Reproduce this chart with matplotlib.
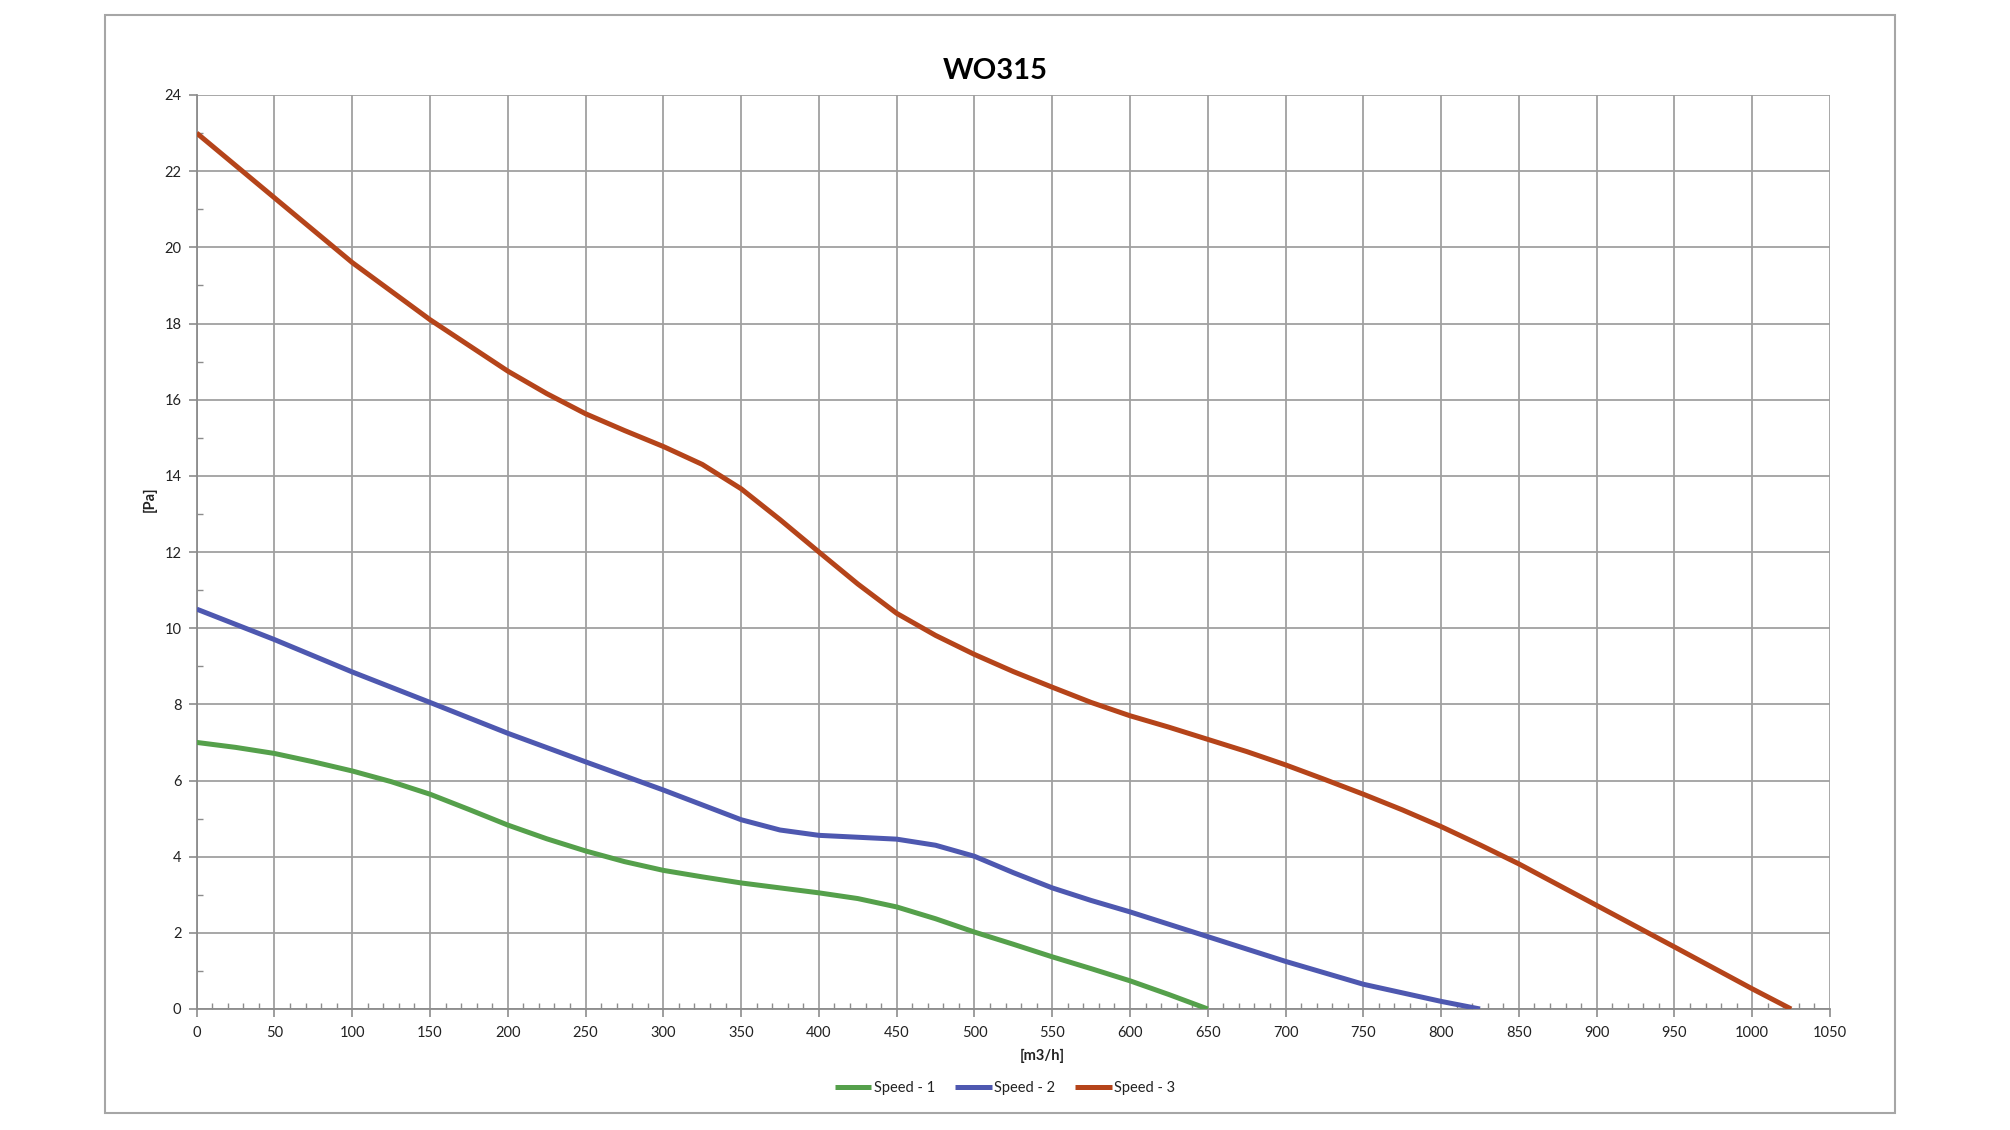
import matplotlib
matplotlib.use("Agg")
import matplotlib.pyplot as plt
from matplotlib.patches import Rectangle
from matplotlib.ticker import MultipleLocator

plt.rcParams['font.family'] = ['Lato', 'DejaVu Sans']

title = "WO315"
x_label = "[m3/h]"
y_label = "[Pa]"
series_names = ["Speed - 1", "Speed - 2", "Speed - 3"]

x_speed1 = [0, 25, 50, 75, 100, 125, 150, 175, 200, 225, 250, 275, 300, 325, 350, 375,
            400, 425, 450, 475, 500, 525, 550, 575, 600, 625, 650]
y_speed1 = [7.0, 6.87, 6.71, 6.49, 6.25, 5.97, 5.64, 5.24, 4.83, 4.47, 4.15, 3.87, 3.64,
            3.47, 3.31, 3.18, 3.05, 2.9, 2.68, 2.37, 2.02, 1.7, 1.37, 1.06, 0.74, 0.38, 0.0]

x_speed2 = [0, 50, 100, 150, 200, 250, 300, 325, 350, 375, 400, 425, 450, 475, 500, 525,
            550, 575, 600, 650, 700, 750, 800, 825]
y_speed2 = [10.5, 9.7, 8.85, 8.05, 7.24, 6.49, 5.75, 5.36, 4.97, 4.7, 4.56, 4.51, 4.46,
            4.3, 4.01, 3.58, 3.18, 2.85, 2.55, 1.9, 1.25, 0.65, 0.2, 0.0]

x_speed3 = [0, 50, 100, 150, 200, 225, 250, 275, 300, 325, 350, 375, 400, 425, 450, 475,
            500, 525, 550, 575, 600, 625, 650, 675, 700, 725, 750, 775, 800, 825, 850,
            900, 950, 1000, 1025]
y_speed3 = [23.0, 21.3, 19.6, 18.1, 16.75, 16.16, 15.63, 15.19, 14.77, 14.3, 13.66, 12.85,
            12.0, 11.16, 10.39, 9.81, 9.31, 8.86, 8.45, 8.05, 7.7, 7.4, 7.08, 6.76, 6.41,
            6.03, 5.64, 5.23, 4.79, 4.31, 3.81, 2.72, 1.63, 0.53, 0.0]

colors = ["#55A04B", "#4E58B0", "#B5441A"]

W, H = 2010, 1130
fig = plt.figure(figsize=(W / 100, H / 100), dpi=100)

# outer chart border
fig.patches.append(Rectangle((105 / W, 1 - 1113 / H), 1790 / W, 1098 / H,
                             transform=fig.transFigure, fill=False,
                             edgecolor="#a6a6a6", linewidth=1.5))

ax = fig.add_axes([196.7 / W, 1 - 1009 / H, (1830 - 196.7) / W, (1009 - 95) / H])

grid_c = "#a0a0a0"
for xs, ys, c, n in zip([x_speed1, x_speed2, x_speed3],
                        [y_speed1, y_speed2, y_speed3], colors, series_names):
    ax.plot(xs, ys, color=c, linewidth=3.6, label=n, solid_capstyle="butt",
            solid_joinstyle="round", zorder=3)

ax.set_xlim(0, 1050)
ax.set_ylim(0, 24)
ax.xaxis.set_major_locator(MultipleLocator(50))
ax.xaxis.set_minor_locator(MultipleLocator(10))
ax.yaxis.set_major_locator(MultipleLocator(2))
ax.yaxis.set_minor_locator(MultipleLocator(1))
ax.grid(True, which="major", color=grid_c, linewidth=1.3)
ax.set_axisbelow(True)
for s in ["top", "right"]:
    ax.spines[s].set_visible(False)
for s in ["left", "bottom"]:
    ax.spines[s].set_color("#8c8c8c")
    ax.spines[s].set_linewidth(1.3)
ax.tick_params(which="major", direction="out", length=6, width=1.2, color="#8c8c8c",
               labelsize=10.5, labelcolor="#222222", pad=5)
ax.tick_params(which="minor", direction="in", length=4, width=1.0, color="#8c8c8c")
ax.tick_params(axis="x", which="major", length=6, pad=6)

fig.text(0.495, 1 - 71 / H, title, ha="center", va="center",
         fontsize=21, fontweight="bold", color="black")
fig.text(1042 / W, 1 - 1056 / H, x_label, ha="center", va="center",
         fontsize=10.5, fontweight="bold", color="#222222")
fig.text(150 / W, 1 - 499 / H, y_label, ha="center", va="center",
         fontsize=10.5, fontweight="bold", color="#222222", rotation=90)

handles, labels = ax.get_legend_handles_labels()
fig.legend(handles, labels, loc="center", bbox_to_anchor=(1005 / W, 1 - 1088 / H),
           ncol=3, frameon=False, fontsize=10.5, handlelength=2.5,
           handletextpad=0.15, columnspacing=1.4, labelcolor="#222222")

fig.savefig("out.png", dpi=100, facecolor="white")
